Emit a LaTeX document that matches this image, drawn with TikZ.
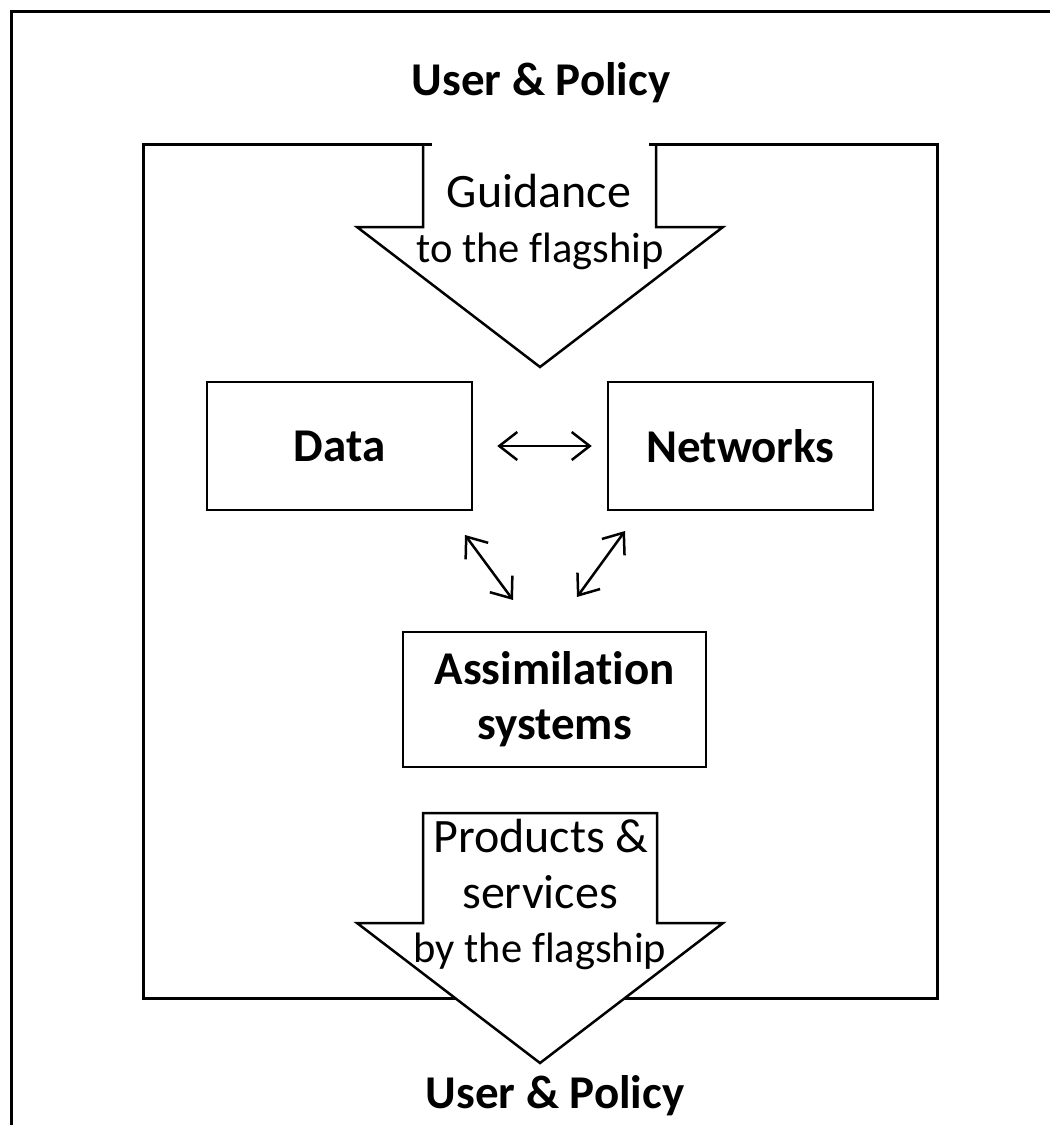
\documentclass[tikz,border=0pt]{standalone}
\usepackage{fontspec}
\setmainfont{Carlito}[Ligatures=NoCommon]
\usetikzlibrary{arrows.meta}
\begin{document}
\begin{tikzpicture}[x=1bp,y=-1bp,
  frameline/.style={line width=3bp},
  outline/.style={line width=2.5bp},
  bigtext/.style={font=\fontsize{48bp}{55bp}\selectfont, inner sep=0pt},
  regtext/.style={font=\fontsize{42.5bp}{55bp}\selectfont, inner sep=0pt},
  boldtext/.style={font=\fontsize{47bp}{55bp}\selectfont\bfseries, inner sep=0pt},
  block/.style={draw, line width=2.5bp, font=\fontsize{47bp}{55bp}\selectfont\bfseries,
    align=center, inner sep=0pt},
  link/.style={line width=2.5bp, {Straight Barb[length=18bp,width=28bp]}-{Straight Barb[length=18bp,width=28bp]}}
]
\useasboundingbox (0,0) rectangle (1050,1125);
\clip (0,0) rectangle (1050,1125);

% outer frame, running off the page at right and bottom
\draw[frameline] (11,1140) -- (11,11) -- (1065,11);

% inner frame, open where the guidance arrow enters
\draw[frameline] (432,144) -- (143,144) -- (143,998) -- (937,998) -- (937,144) -- (649,144);

% guidance arrow (open at its top)
\draw[outline] (423,144) -- (423,227) -- (357,227) -- (540,367) -- (723,227) -- (656,227) -- (656,144);

% products arrow, leaving through the bottom of the frame
\filldraw[outline, fill=white] (423,813) -- (657,813) -- (657,923) -- (723,923)
  -- (540,1063) -- (357,923) -- (423,923) -- cycle;

% labels
\node[boldtext, anchor=base] (userTop) at (541,95) {User \& Policy};
\node[boldtext, anchor=base] (userBottom) at (555,1108) {User \& Policy};
\node[bigtext, anchor=base] (guid1) at (539,207) {Guidance};
\node[regtext, anchor=base] (guid2) at (540,262) {to the flagship};
\node[bigtext, anchor=base] (prod1) at (541,852) {Products \&};
\node[bigtext, anchor=base] (prod2) at (540,908) {services};
\node[regtext, anchor=base] (prod3) at (540,962) {by the flagship};

% blocks
\node[block, minimum width=265bp, minimum height=128bp] (data) at (339.5,446) {Data};
\node[block, minimum width=265bp, minimum height=128bp] (networks) at (740.5,446) {Networks};
\node[block, minimum width=303bp, minimum height=135bp] (assim) at (554.5,699.5) {Assimilation\\systems};

% links between the blocks
\coordinate (dA) at (465,535);
\coordinate (aD) at (513,600);
\coordinate (nA) at (625,531);
\coordinate (aN) at (577,597);
\draw[link, shorten <=24bp, shorten >=15bp] (data.east) -- (networks.west);
\draw[link] (dA) -- (aD);
\draw[link] (nA) -- (aN);
\end{tikzpicture}
\end{document}
